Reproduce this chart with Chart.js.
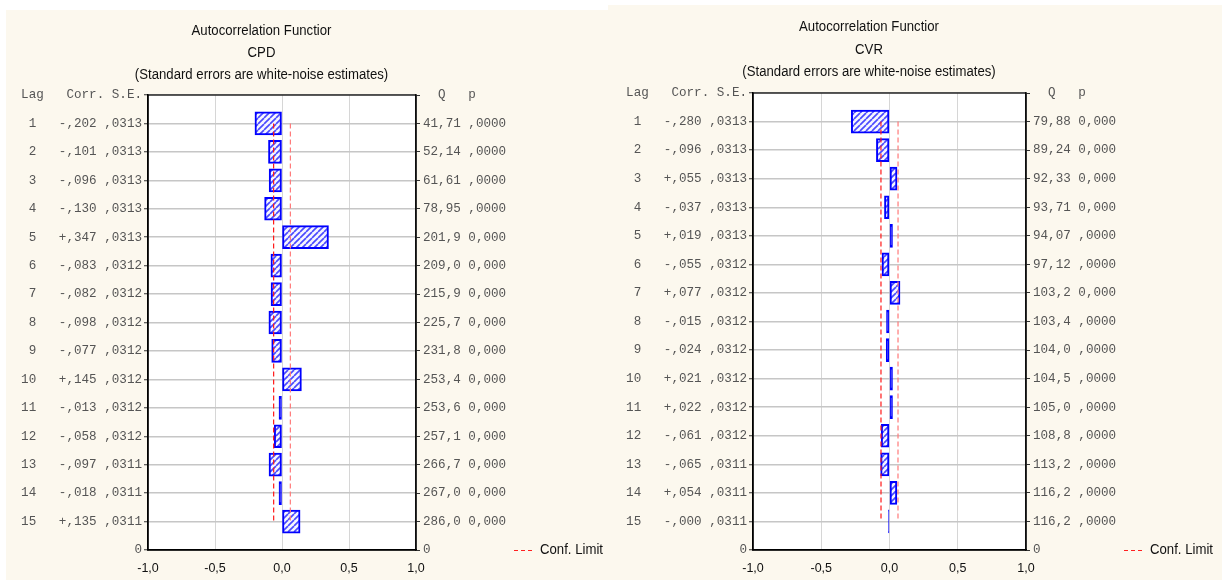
<!DOCTYPE html>
<html>
<head>
<meta charset="utf-8">
<script src="https://cdn.jsdelivr.net/npm/chart.js@4/dist/chart.umd.min.js"></script>
<style>
  html, body { margin: 0; padding: 0; background: #ffffff; }
  body { width: 1227px; height: 580px; position: relative; overflow: hidden; }
  .panel { position: absolute; background: #fcf8ee; }
  canvas { display: block; }
</style>
</head>
<body>
<div class="panel" style="left:6px;top:10px;width:606px;height:570px;"><canvas id="cpd" width="606" height="570"></canvas></div>
<div class="panel" style="left:608px;top:5px;width:614px;height:575px;"><canvas id="cvr" width="614" height="575"></canvas></div>
<script>
// ---------- data ----------
const lags = [1, 2, 3, 4, 5, 6, 7, 8, 9, 10, 11, 12, 13, 14, 15];
const xTickLabels = ['-1,0', '-0,5', '0,0', '0,5', '1,0'];
const titleLine1 = 'Autocorrelation Functior';
const titleLine3 = '(Standard errors are white-noise estimates)';
const legendLabel = 'Conf. Limit';

const cpdCorr = [-0.202, -0.101, -0.096, -0.130, 0.347, -0.083, -0.082, -0.098, -0.077, 0.145, -0.013, -0.058, -0.097, -0.018, 0.135];
const cpdSE   = [0.0313, 0.0313, 0.0313, 0.0313, 0.0313, 0.0312, 0.0312, 0.0312, 0.0312, 0.0312, 0.0312, 0.0312, 0.0311, 0.0311, 0.0311];
const cpdQ    = [41.71, 52.14, 61.61, 78.95, 201.9, 209.0, 215.9, 225.7, 231.8, 253.4, 253.6, 257.1, 266.7, 267.0, 286.0];
const cpdP    = [',0000', ',0000', ',0000', ',0000', '0,000', '0,000', '0,000', '0,000', '0,000', '0,000', '0,000', '0,000', '0,000', '0,000', '0,000'];
const cpdConf = [0.0626, 0.0626, 0.0626, 0.0626, 0.0626, 0.0624, 0.0624, 0.0624, 0.0624, 0.0624, 0.0624, 0.0624, 0.0622, 0.0622, 0.0622];

const cvrCorr = [-0.280, -0.096, 0.055, -0.037, 0.019, -0.055, 0.077, -0.015, -0.024, 0.021, 0.022, -0.061, -0.065, 0.054, -0.0004];
const cvrSE   = [0.0313, 0.0313, 0.0313, 0.0313, 0.0313, 0.0312, 0.0312, 0.0312, 0.0312, 0.0312, 0.0312, 0.0312, 0.0311, 0.0311, 0.0311];
const cvrQ    = [79.88, 89.24, 92.33, 93.71, 94.07, 97.12, 103.2, 103.4, 104.0, 104.5, 105.0, 108.8, 113.2, 116.2, 116.2];
const cvrP    = ['0,000', '0,000', '0,000', '0,000', ',0000', ',0000', '0,000', ',0000', ',0000', ',0000', ',0000', ',0000', ',0000', ',0000', ',0000'];
const cvrConf = [0.0626, 0.0626, 0.0626, 0.0626, 0.0626, 0.0624, 0.0624, 0.0624, 0.0624, 0.0624, 0.0624, 0.0624, 0.0622, 0.0622, 0.0622];

// ---------- helpers ----------
const fmtCorr = v => (v < 0 || Object.is(v, -0) ? '-' : '+') + ',' + Math.abs(v).toFixed(3).slice(2);
const fmtSE = v => ',' + v.toFixed(4).slice(2);
const fmtQ = v => v.toPrecision(4).replace('.', ',');

function hatch() {
  const s = 6;
  const c = document.createElement('canvas');
  c.width = s; c.height = s;
  const g = c.getContext('2d');
  g.fillStyle = '#f6f6ff';
  g.fillRect(0, 0, s, s);
  g.strokeStyle = '#4a4aff';
  g.lineWidth = 1.7;
  for (let i = -1; i <= 1; i++) {
    g.beginPath();
    g.moveTo(i * s, s);
    g.lineTo(i * s + s, 0);
    g.stroke();
  }
  return g.createPattern(c, 'repeat');
}

const SANS = "'Liberation Sans', Arial, sans-serif";
const MONO = "'Liberation Mono', 'Courier New', monospace";
const SQUEEZE = 0.85;

function squeezedText(ctx, text, x, y, align, size) {
  ctx.save();
  ctx.font = size + 'px ' + SANS;
  ctx.textBaseline = 'middle';
  ctx.textAlign = align;
  ctx.translate(x, y);
  ctx.scale(SQUEEZE, 1);
  ctx.fillText(text, 0, 0);
  ctx.restore();
}

const panelPlugin = {
  id: 'panelDeco',
  beforeDraw(chart) {
    const { ctx, chartArea: a } = chart;
    ctx.save();
    ctx.fillStyle = '#ffffff';
    ctx.fillRect(a.left, a.top, a.right - a.left, a.bottom - a.top);
    ctx.restore();
  },
  afterDraw(chart, args, opts) {
    const { ctx, chartArea: a } = chart;
    ctx.save();
    ctx.strokeStyle = '#000';
    ctx.lineWidth = 1.2;
    ctx.strokeRect(a.left, a.top, a.right - a.left, a.bottom - a.top);
    // titles
    ctx.fillStyle = '#111';
    const cx = (chart.width - opts.padRight) / 2;
    opts.lines.forEach((t, i) => squeezedText(ctx, t, cx, opts.titleY + i * opts.lineH, 'center', 15.5));
    // legend
    const lx = a.right + 98, ly = a.bottom;
    ctx.strokeStyle = '#ff2020';
    ctx.lineWidth = 1;
    ctx.setLineDash([4, 3]);
    ctx.beginPath();
    ctx.moveTo(lx, ly + 0.5);
    ctx.lineTo(lx + 18, ly + 0.5);
    ctx.stroke();
    ctx.setLineDash([]);
    squeezedText(ctx, legendLabel, a.right + 124, ly, 'left', 15.5);
    ctx.restore();
  }
};

function makePanel(id, name, corr, se, q, p, conf, g) {
  const leftLabels = lags.map((l, i) => String(l).padStart(2) + '   ' + fmtCorr(corr[i]) + ' ' + fmtSE(se[i]));
  const rightLabels = lags.map((l, i) => fmtQ(q[i]) + ' ' + p[i]);
  const thick = [], thin = [];
  lags.forEach((l, i) => (Math.abs(corr[i]) < 0.005 ? thin : thick).push({ x: corr[i], y: l }));
  const loData = lags.map((l, i) => ({ x: -conf[i], y: l }));
  const hiData = lags.map((l, i) => ({ x: conf[i], y: l }));

  const pattern = hatch();
  const yCommon = { type: 'linear', min: 0, max: 16, reverse: true, offset: false };
  const barCommon = { type: 'bar', indexAxis: 'y',
    backgroundColor: c => (c.raw && Math.abs(c.raw.x) < 0.03 ? '#0000ff' : pattern),
    borderColor: '#0000ff', borderWidth: 2,
    borderSkipped: false, barThickness: 23, grouped: false, order: 1 };

  new Chart(document.getElementById(id), {
    type: 'bar',
    data: {
      datasets: [
        { type: 'line', label: legendLabel, data: loData, indexAxis: 'y', borderColor: '#ff1a1a', borderWidth: 1.2, borderDash: [5, 3], pointRadius: 0, fill: false, order: 0 },
        { type: 'line', label: legendLabel, data: hiData, indexAxis: 'y', borderColor: '#ff7a7a', borderWidth: 1.2, borderDash: [5, 3], pointRadius: 0, fill: false, order: 0 },
        Object.assign({ label: 'Corr.', data: thick, minBarLength: 3 }, barCommon),
        Object.assign({ label: 'Corr.', data: thin, minBarLength: 1 }, barCommon, { borderWidth: 1 })
      ]
    },
    options: {
      indexAxis: 'y',
      responsive: false,
      animation: false,
      devicePixelRatio: 1,
      layout: { padding: { left: 0, right: g.padRight, top: g.top, bottom: 0 } },
      plugins: {
        legend: { display: false },
        tooltip: { enabled: false },
        title: { display: false },
        panelDeco: { padRight: g.padRight, titleY: g.titleY, lineH: g.lineH, lines: [titleLine1, name, titleLine3] }
      },
      scales: {
        x: {
          type: 'linear', min: -1, max: 1, position: 'bottom',
          afterFit: s => { s.height = 30; },
          ticks: {
            stepSize: 0.5,
            callback: (v, i) => xTickLabels[i],
            font: { family: SANS, size: 12.5 },
            color: '#111',
            padding: 3,
            maxRotation: 0
          },
          grid: { color: '#d6d6d6', lineWidth: 1, tickLength: 8, tickColor: 'rgba(0,0,0,0)' },
          border: { display: true, color: '#000', width: 1.5 }
        },
        y: Object.assign({}, yCommon, {
          position: 'left',
          afterFit: s => { s.width = g.yWidth; },
          ticks: {
            stepSize: 1, autoSkip: false,
            callback: v => v === 0 ? 'Lag   Corr. S.E.' : (v === 16 ? '0' : leftLabels[v - 1]),
            font: { family: MONO, size: 12.6 },
            color: '#555',
            padding: 2
          },
          grid: { offset: false, color: '#c6c6c6', lineWidth: 1.5, tickLength: 4, tickColor: '#333', tickWidth: 1 },
          border: { display: true, color: '#000', width: 1.5 }
        }),
        y2: Object.assign({}, yCommon, {
          position: 'right',
          afterFit: s => { s.width = g.y2Width; },
          ticks: {
            stepSize: 1, autoSkip: false,
            callback: v => v === 0 ? '  Q   p' : (v === 16 ? '0' : rightLabels[v - 1]),
            font: { family: MONO, size: 12.6 },
            color: '#555',
            padding: 3
          },
          grid: { offset: false, drawOnChartArea: false, tickLength: 4, tickColor: '#333', tickWidth: 1 },
          border: { display: true, color: '#222', width: 1.5 }
        })
      }
    },
    plugins: [panelPlugin]
  });
}

makePanel('cpd', 'CPD', cpdCorr, cpdSE, cpdQ, cpdP, cpdConf,
  { padRight: 95, yWidth: 142, y2Width: 101, top: 85, titleY: 21, lineH: 22 });
makePanel('cvr', 'CVR', cvrCorr, cvrSE, cvrQ, cvrP, cvrConf,
  { padRight: 92, yWidth: 145, y2Width: 104, top: 88, titleY: 22, lineH: 22.5 });
</script>
</body>
</html>
